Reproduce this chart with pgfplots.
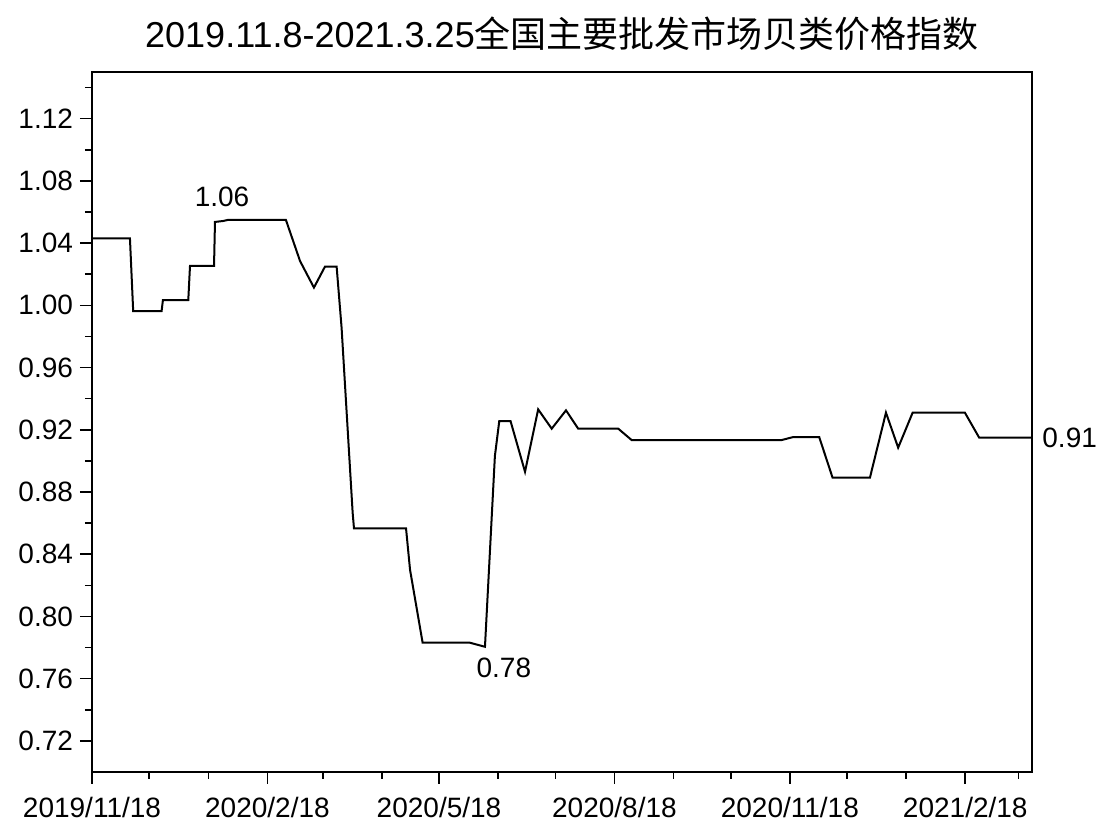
\documentclass[border=0pt]{standalone}
\usepackage{fontspec}
\setmainfont{Liberation Sans}
\newfontfamily\cjk{Noto Sans CJK SC}
\usepackage{pgfplots}
\pgfplotsset{compat=1.18}

\begin{document}
\begin{tikzpicture}
\useasboundingbox (-46pt,-33pt) rectangle (508pt,386pt);
\begin{axis}[
    scale only axis,
    width=470pt,
    height=350pt,
    xmin=0, xmax=493,
    ymin=0.70, ymax=1.15,
    axis line style={line width=0.9pt},
    tick style={black, line width=0.8pt},
    tick align=outside,
    xtick pos=bottom,
    ytick pos=left,
    major tick length=6pt,
    minor tick length=3.5pt,
    xtick={0,92,182,274,366,458},
    xticklabels={2019/11/18,2020/2/18,2020/5/18,2020/8/18,2020/11/18,2021/2/18},
    minor xtick={30,61,121,152,213,243,305,335,396,427,486},
    xticklabel style={yshift=-3pt},
    ytick={0.72,0.76,0.80,0.84,0.88,0.92,0.96,1.00,1.04,1.08,1.12},
    minor ytick={0.74,0.78,0.82,0.86,0.90,0.94,0.98,1.02,1.06,1.10,1.14},
    yticklabel style={/pgf/number format/.cd, fixed, fixed zerofill, precision=2, assume math mode=true},
    ticklabel style={font=\fontsize{14}{16}\selectfont},
    title={\fontsize{18}{21}\selectfont 2019.11.8-2021.3.25{\cjk\fontsize{18}{21}\selectfont 全国主要批发市场贝类价格指数}},
    title style={at={(0.5,1)}, anchor=center, yshift=13pt},
    clip=false,
]
\addplot[black, line width=1pt] coordinates {
    (0,1.0431) (19.9,1.0431) (21.6,0.9963) (36.5,0.9963) (37.2,1.0034)
    (50.5,1.0034) (51.4,1.0253) (64.0,1.0253) (64.5,1.0536) (68.7,1.0542)
    (71.3,1.0549) (101.7,1.0549) (109.1,1.0285) (116.4,1.0114) (122.2,1.0249)
    (128.3,1.0249) (130.9,0.9856) (136.7,0.8667) (137.4,0.8566) (164.7,0.8566)
    (166.8,0.830) (173.4,0.7831) (198.2,0.7831) (206.1,0.7805) (211.3,0.9031)
    (213.6,0.9256) (219.5,0.9256) (227.1,0.8930) (234.0,0.9331) (241.1,0.9207)
    (248.6,0.9325) (255.0,0.9207) (276.0,0.9207) (283.0,0.9134) (361.7,0.9134)
    (367.7,0.9153) (381.4,0.9153) (388.4,0.8892) (408.0,0.8892) (416.4,0.9310)
    (422.8,0.9085) (430.4,0.9310) (457.8,0.9310) (465.3,0.9149) (493,0.9149)
};
\node[font=\fontsize{14}{16}\selectfont, inner sep=0pt] at (axis cs:68.2,1.070) {1.06};
\node[font=\fontsize{14}{16}\selectfont, inner sep=0pt] at (axis cs:216,0.7672) {0.78};
\node[font=\fontsize{14}{16}\selectfont, inner sep=0pt, anchor=west] at (axis cs:493,0.9149) {\hspace{5pt}0.91};
\end{axis}
\end{tikzpicture}
\end{document}
